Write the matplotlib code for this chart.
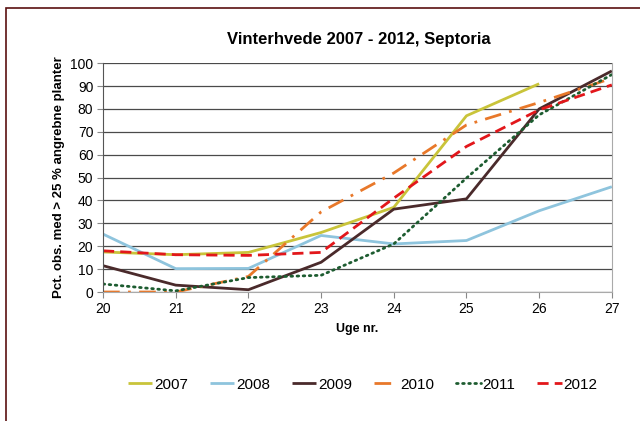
import matplotlib
matplotlib.use('Agg')
import matplotlib.pyplot as plt
from matplotlib.patches import Rectangle

plt.rcParams['font.family'] = ['Liberation Sans', 'DejaVu Sans']

# Uger og andel planter med angreb
uger = [20, 21, 22, 23, 24, 25, 26, 27]
aar = ['2007', '2008', '2009', '2010', '2011', '2012']
v2007 = [17.5, 16.3, 17.3, 26, 37, 77, 91]
v2008 = [25.3, 10.2, 10.3, 24.7, 21, 22.5, 35.5, 46]
v2009 = [11.5, 3, 1, 13, 36.2, 40.7, 80, 96.6]
v2010 = [0, 0, 6.8, 35, 52, 73, 82.8, 93.4]
v2011 = [3.5, 0.5, 6.3, 7.3, 21, 49.8, 77.4, 95]
v2012 = [18, 16.3, 16, 17.3, 41, 63.6, 79.6, 90.5]

serier = [v2007, v2008, v2009, v2010, v2011, v2012]
farver = ['#C9C43A', '#8EC4DD', '#4A2A2B', '#E8782A', '#1D5C30', '#E2171B']
stile = ['-', '-', '-', (0, (6, 3, 1, 3)), (0, (0.6, 1.6)), (0, (4, 2.2))]

fig = plt.figure(figsize=(6.4, 4.21), dpi=100)
ax = fig.add_axes([0.161, 0.3064, 0.795, 0.5436])

for navn, vals, farve, stil in zip(aar, serier, farver, stile):
    cap = 'round' if navn == '2011' else 'butt'
    ax.plot(uger[:len(vals)], vals, color=farve, lw=2.0, linestyle=stil,
            label=navn, dash_capstyle=cap, solid_capstyle='butt')

ax.set_xlim(20, 27)
ax.set_ylim(0, 100)
ax.set_xticks(uger)
ax.set_yticks(range(0, 101, 10))
ax.yaxis.grid(True, color='#4a4a4a', lw=0.9)
ax.set_axisbelow(True)
ax.spines['top'].set_visible(False)
ax.spines['right'].set_color('#aaaaaa')
ax.spines['bottom'].set_color('#aaaaaa')
ax.spines['left'].set_color('#555555')
ax.tick_params(axis='both', labelsize=10, length=4, direction='out', color='#888888', pad=3)

ax.set_xlabel('Uge nr.', fontsize=9, fontweight='bold', labelpad=5)
ax.set_ylabel('Pct. obs. med > 25 % angrebne planter', fontsize=9.5, fontweight='bold', labelpad=4)
fig.text(0.56, 0.905, 'Vinterhvede 2007 - 2012, Septoria', fontsize=12, fontweight='bold', ha='center', va='center')

ax.legend(loc='center', bbox_to_anchor=(0.51, -0.405), ncol=6, frameon=False, fontsize=11,
          handlelength=1.6, handletextpad=0.1, columnspacing=1.45)

fig.patches.append(Rectangle((6 / 640, -0.1), 1.2, 1 - 8 / 421 + 0.1, transform=fig.transFigure,
                             fill=False, edgecolor='#5a1010', lw=1.2))

fig.savefig('out.png', dpi=100)
